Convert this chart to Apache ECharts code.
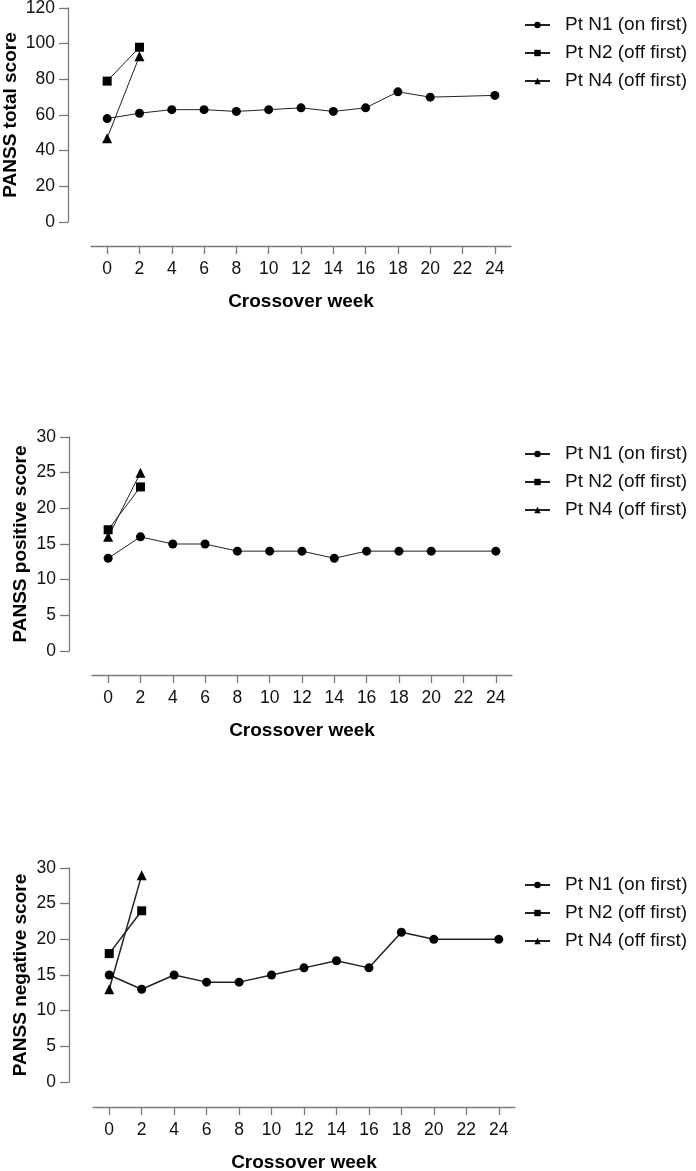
<!DOCTYPE html>
<html lang="en">
<head>
    <meta charset="UTF-8">
    <title>PANSS scores by crossover week</title>
    <script src="https://cdn.jsdelivr.net/npm/echarts@6/dist/echarts.min.js"></script>
    <style>
        html, body { margin: 0; padding: 0; background: #fff; }
        #chart { width: 696px; height: 1171px; }
    </style>
</head>
<body>
<div id="chart"></div>
<script type="text/javascript">
    // weeks at which each patient was scored
    var weeksN1 = [0, 2, 4, 6, 8, 10, 12, 14, 16, 18, 20, 24];
    var weeksShort = [0, 2];
    var xTicks = [0, 2, 4, 6, 8, 10, 12, 14, 16, 18, 20, 22, 24];

    var names = ['Pt N1 (on first)', 'Pt N2 (off first)', 'Pt N4 (off first)'];

    // PANSS total
    var totalN1 = [58, 61, 63, 63, 62, 63, 64, 62, 64, 73, 70, 71];
    var totalN2 = [79, 98];
    var totalN4 = [47, 93];

    // PANSS positive
    var posN1 = [13, 16, 15, 15, 14, 14, 14, 13, 14, 14, 14, 14];
    var posN2 = [17, 23];
    var posN4 = [16, 25];

    // PANSS negative
    var negN1 = [15, 13, 15, 14, 14, 15, 16, 17, 16, 21, 20, 20];
    var negN2 = [18, 24];
    var negN4 = [13, 29];

    var FONT = '"Liberation Sans", Arial, Helvetica, sans-serif';
    var axisColor = '#7a7a7a';

    function pairs(xs, ys) {
        return xs.map(function (x, i) { return [x, ys[i]]; });
    }

    // panel geometry: grid box, y name gap, legend top
    var panels = [
        { top: 8,   height: 214, left: 91, width: 420, xOff: 24, yOff: 23, max: 120, step: 20, title: 'PANSS total score',    gap: 48, legendTop: 15.5, lw: 1,   data: [totalN1, totalN2, totalN4] },
        { top: 437, height: 214, left: 92, width: 420, xOff: 24, yOff: 23, max: 30,  step: 5,  title: 'PANSS positive score', gap: 39, legendTop: 444.5, lw: 1,  data: [posN1, posN2, posN4] },
        { top: 868, height: 214, left: 93, width: 422, xOff: 25, yOff: 24, max: 30,  step: 5,  title: 'PANSS negative score', gap: 39, legendTop: 875.5, lw: 1.5, data: [negN1, negN2, negN4] }
    ];

    var grids = [], xAxes = [], yAxes = [], legends = [], series = [];
    var symbols = ['circle', 'rect', 'triangle'];
    var sizes = [9, 9, 10];

    panels.forEach(function (p, k) {
        grids.push({ left: p.left, top: p.top, width: p.width, height: p.height, outerBoundsMode: 'none' });

        xAxes.push({
            type: 'value', gridIndex: k, min: -1, max: 25, offset: p.xOff,
            name: 'Crossover week', nameLocation: 'middle', nameGap: 46, nameMoveOverlap: false,
            nameTextStyle: { fontFamily: FONT, fontSize: 19, fontWeight: 'bold', color: '#000' },
            axisLine: { show: true, onZero: false, lineStyle: { color: axisColor, width: 1.3 } },
            axisTick: { show: true, length: 8, customValues: xTicks, lineStyle: { color: axisColor, width: 1.3 } },
            axisLabel: { customValues: xTicks, margin: 14, fontFamily: FONT, fontSize: 17.5, color: '#111' },
            splitLine: { show: false }
        });

        yAxes.push({
            type: 'value', gridIndex: k, min: 0, max: p.max, interval: p.step, offset: p.yOff,
            name: p.title, nameLocation: 'middle', nameGap: p.gap, nameMoveOverlap: false,
            nameTextStyle: { fontFamily: FONT, fontSize: 19, fontWeight: 'bold', color: '#000' },
            axisLine: { show: true, onZero: false, lineStyle: { color: axisColor, width: 1.3 } },
            axisTick: { show: true, length: 9, lineStyle: { color: axisColor, width: 1.3 } },
            axisLabel: { margin: 13, fontFamily: FONT, fontSize: 17.5, color: '#111' },
            splitLine: { show: false }
        });

        legends.push({
            data: names, orient: 'vertical', left: 524, top: p.legendTop,
            padding: 0, itemGap: 9, itemWidth: 25, itemHeight: 8,
            selectedMode: false,
            textStyle: { fontFamily: FONT, fontSize: 19, color: '#111', padding: [0, 0, 0, 10] }
        });

        var xs = [weeksN1, weeksShort, weeksShort];
        for (var s = 0; s < 3; s++) {
            series.push({
                name: names[s], type: 'line', xAxisIndex: k, yAxisIndex: k,
                data: pairs(xs[s], p.data[s]),
                symbol: symbols[s], symbolSize: sizes[s],
                itemStyle: { color: '#000' },
                lineStyle: { color: '#222', width: p.lw },
                animation: false
            });
        }
    });

    var myChart = echarts.init(document.getElementById('chart'));
    myChart.setOption({
        backgroundColor: '#fff',
        animation: false,
        grid: grids,
        xAxis: xAxes,
        yAxis: yAxes,
        legend: legends,
        series: series
    });
</script>
</body>
</html>
